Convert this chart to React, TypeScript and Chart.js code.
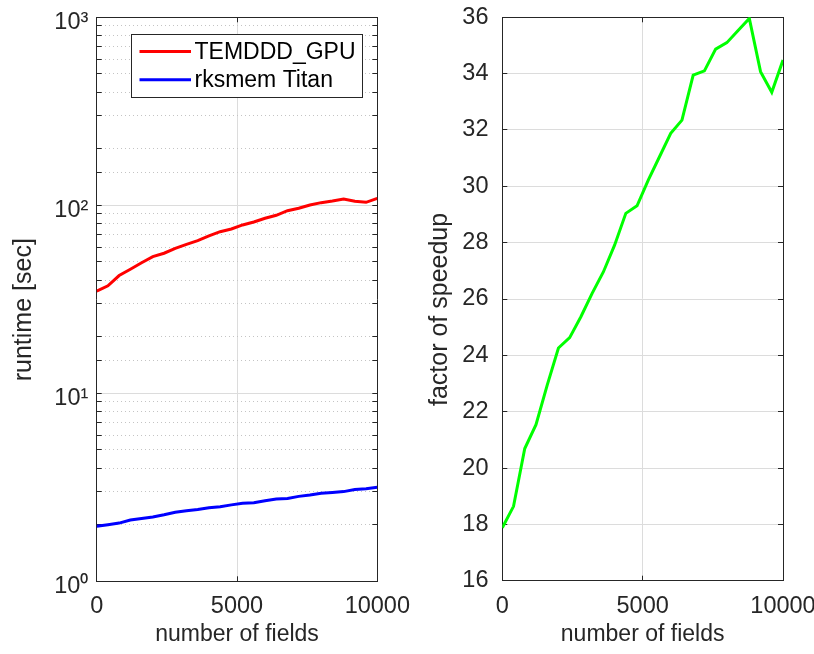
import React, { useEffect, useRef } from 'react';
import { Chart, registerables } from 'chart.js';

Chart.register(...registerables);

// ---------- data ----------
const fieldCounts = [
  0, 400, 800, 1200, 1600, 2000, 2400, 2800, 3200, 3600, 4000, 4400, 4800,
  5200, 5600, 6000, 6400, 6800, 7200, 7600, 8000, 8400, 8800, 9200, 9600, 10000,
];
const runtimeTemdddGpu = [
  35.0, 37.3, 42.3, 45.7, 49.5, 53.3, 55.6, 59.0, 62.0, 64.9, 68.7, 72.4, 74.8,
  78.6, 81.5, 85.3, 88.5, 93.6, 96.4, 100.4, 103.3, 105.4, 108.1, 105.0, 103.7, 108.8,
];
const runtimeRksmemTitan = [
  1.96, 2.0, 2.04, 2.12, 2.16, 2.2, 2.26, 2.33, 2.37, 2.41, 2.46, 2.49, 2.55,
  2.6, 2.62, 2.68, 2.74, 2.76, 2.83, 2.88, 2.94, 2.97, 3.0, 3.08, 3.11, 3.16,
];
const speedupFactor = [
  17.88, 18.64, 20.69, 21.54, 22.94, 24.26, 24.63, 25.37, 26.2, 26.96, 27.91, 29.04, 29.31,
  30.22, 31.05, 31.88, 32.35, 33.95, 34.1, 34.87, 35.1, 35.53, 35.96, 34.07, 33.34, 34.48,
];
const seriesLabels = ['TEMDDD_GPU', 'rksmem Titan'];
const fieldTickValues = [0, 5000, 10000];
const runtimeTickValues = [1, 10, 100, 1000];
const runtimeTickLabels = ['10⁰', '10¹', '10²', '10³'];
const speedupTickValues = [16, 18, 20, 22, 24, 26, 28, 30, 32, 34, 36];
const xTitle = 'number of fields';
const runtimeTitle = 'runtime [sec]';
const speedupTitle = 'factor of speedup';

// ---------- style ----------
const FONT = "'Liberation Sans', Arial, Helvetica, sans-serif";
const TEXT = '#262626';
const AXIS = '#262626';
const GRID_MAJOR = '#dcdcdc';
const GRID_MINOR = '#c4c4c4';
const TICK_FONT = { family: FONT, size: 23.5 };
const X_TITLE_FONT = { family: FONT, size: 23 };
const Y_TITLE_FONT = { family: FONT, size: 25 };
const TITLE_SHIFT = '   ';

const isDecade = (v: number | undefined) => {
  if (v === undefined || v <= 0) return false;
  const l = Math.log10(v);
  return Math.abs(l - Math.round(l)) < 1e-9;
};

const boxLegend = {
  id: 'boxLegend',
  afterDatasetsDraw(chart: any, _args: any, opts: any) {
    if (!opts || !opts.display) return;
    const ctx = chart.ctx as CanvasRenderingContext2D;
    const { left, top } = chart.chartArea;
    const x = Math.round(left + opts.offsetX);
    const y = Math.round(top + opts.offsetY);
    ctx.save();
    ctx.fillStyle = '#ffffff';
    ctx.fillRect(x, y, opts.width, opts.height);
    ctx.strokeStyle = AXIS;
    ctx.lineWidth = 1;
    ctx.strokeRect(x + 0.5, y + 0.5, opts.width, opts.height);
    chart.data.datasets.forEach((ds: any, i: number) => {
      const cy = y + opts.firstRow + i * opts.rowGap;
      ctx.strokeStyle = ds.borderColor;
      ctx.lineWidth = ds.borderWidth;
      ctx.beginPath();
      ctx.moveTo(x + opts.lineStart, cy);
      ctx.lineTo(x + opts.lineEnd, cy);
      ctx.stroke();
      ctx.fillStyle = '#000000';
      ctx.font = `${opts.fontSize}px ${FONT}`;
      ctx.textBaseline = 'middle';
      ctx.textAlign = 'left';
      ctx.fillText(ds.label, x + opts.textStart, cy + 1);
    });
    ctx.restore();
  },
};

const fieldTicks = (s: any) => {
  s.ticks = fieldTickValues.map((value) => ({ value }));
};

const noPadV = (width: number) => (s: any) => {
  s.width = width;
  s.paddingTop = 0;
  s.paddingBottom = 0;
};

function xScales(bottomHeight: number) {
  return {
    x: {
      type: 'linear',
      position: 'bottom',
      min: 0,
      max: 10000,
      afterBuildTicks: fieldTicks,
      afterFit: (s: any) => {
        s.height = bottomHeight;
        s.paddingLeft = 0;
        s.paddingRight = 0;
      },
      ticks: {
        font: TICK_FONT,
        color: TEXT,
        padding: 16.3,
        maxRotation: 0,
        autoSkip: false,
        callback: (v: number) => String(v),
      },
      grid: { color: GRID_MAJOR, lineWidth: 1, drawTicks: true, tickLength: -5, tickColor: AXIS, tickWidth: 1 },
      border: { color: AXIS, width: 1 },
      title: { display: true, text: xTitle, font: X_TITLE_FONT, color: TEXT, padding: { top: 0, bottom: 5.5 } },
    },
    x2: {
      type: 'linear',
      position: 'top',
      min: 0,
      max: 10000,
      afterBuildTicks: fieldTicks,
      afterFit: (s: any) => {
        s.height = 0;
        s.paddingLeft = 0;
        s.paddingRight = 0;
      },
      ticks: { display: false },
      grid: { drawOnChartArea: false, drawTicks: true, tickLength: -5, tickColor: AXIS, tickWidth: 1 },
      border: { color: AXIS, width: 1 },
    },
  };
}

function leftConfig(): any {
  return {
    type: 'line',
    data: {
      datasets: [
        {
          label: seriesLabels[0],
          data: fieldCounts.map((f, i) => ({ x: f, y: runtimeTemdddGpu[i] })),
          borderColor: '#ff0000',
          backgroundColor: '#ff0000',
          borderWidth: 3,
          pointRadius: 0,
          tension: 0,
          xAxisID: 'x',
          yAxisID: 'y',
        },
        {
          label: seriesLabels[1],
          data: fieldCounts.map((f, i) => ({ x: f, y: runtimeRksmemTitan[i] })),
          borderColor: '#0000ff',
          backgroundColor: '#0000ff',
          borderWidth: 3,
          pointRadius: 0,
          tension: 0,
          xAxisID: 'x',
          yAxisID: 'y',
        },
      ],
    },
    options: {
      responsive: false,
      animation: false,
      devicePixelRatio: 1,
      layout: { padding: { left: 0, top: 17.3, right: 62.7, bottom: 0 } },
      plugins: {
        legend: { display: false },
        tooltip: { enabled: false },
        boxLegend: {
          display: true,
          offsetX: 34.3,
          offsetY: 17,
          width: 231,
          height: 63,
          firstRow: 17.5,
          rowGap: 28.3,
          lineStart: 8.5,
          lineEnd: 60,
          textStart: 63.5,
          fontSize: 23,
        },
      },
      scales: {
        ...xScales(72.7),
        y: {
          type: 'logarithmic',
          position: 'left',
          min: 1,
          max: 1000,
          afterFit: noPadV(96.7),
          ticks: {
            font: TICK_FONT,
            color: TEXT,
            padding: 13.4,
            autoSkip: false,
            labelOffset: 5,
            callback: (value: number) => {
              const i = runtimeTickValues.findIndex((v) => Math.abs(v - value) < 1e-9 * v);
              return i >= 0 ? runtimeTickLabels[i] : '';
            },
          },
          grid: {
            color: (c: any) => (isDecade(c.tick?.value) ? GRID_MAJOR : GRID_MINOR),
            lineWidth: 1,
            drawTicks: true,
            tickLength: -5,
            tickColor: AXIS,
            tickWidth: 1,
          },
          border: {
            color: AXIS,
            width: 1,
            dash: (c: any) => (c.tick && !isDecade(c.tick.value) ? [1, 3] : []),
          },
          title: {
            display: true,
            text: runtimeTitle + TITLE_SHIFT,
            font: Y_TITLE_FONT,
            color: TEXT,
            padding: { top: 9, bottom: 0 },
          },
        },
        y2: {
          type: 'logarithmic',
          position: 'right',
          min: 1,
          max: 1000,
          afterFit: noPadV(0),
          ticks: { display: false, autoSkip: false },
          grid: { drawOnChartArea: false, drawTicks: true, tickLength: -5, tickColor: AXIS, tickWidth: 1 },
          border: { color: AXIS, width: 1 },
        },
      },
    },
    plugins: [boxLegend],
  };
}

function rightConfig(): any {
  return {
    type: 'line',
    data: {
      datasets: [
        {
          label: 'speedup',
          data: fieldCounts.map((f, i) => ({ x: f, y: speedupFactor[i] })),
          borderColor: '#00ff00',
          backgroundColor: '#00ff00',
          borderWidth: 3,
          pointRadius: 0,
          tension: 0,
          xAxisID: 'x',
          yAxisID: 'y',
        },
      ],
    },
    options: {
      responsive: false,
      animation: false,
      devicePixelRatio: 1,
      layout: { padding: { left: 0, top: 17.3, right: 77, bottom: 0 } },
      plugins: {
        legend: { display: false },
        tooltip: { enabled: false },
      },
      scales: {
        ...xScales(73.3),
        y: {
          type: 'linear',
          position: 'left',
          min: 16,
          max: 36,
          afterBuildTicks: (s: any) => {
            s.ticks = speedupTickValues.map((value) => ({ value }));
          },
          afterFit: noPadV(82.3),
          ticks: { font: TICK_FONT, color: TEXT, padding: 18.8, autoSkip: false },
          grid: { color: GRID_MAJOR, lineWidth: 1, drawTicks: true, tickLength: -5, tickColor: AXIS, tickWidth: 1 },
          border: { color: AXIS, width: 1 },
          title: {
            display: true,
            text: speedupTitle + TITLE_SHIFT,
            font: Y_TITLE_FONT,
            color: TEXT,
            padding: { top: 5.5, bottom: 0 },
          },
        },
        y2: {
          type: 'linear',
          position: 'right',
          min: 16,
          max: 36,
          afterBuildTicks: (s: any) => {
            s.ticks = speedupTickValues.map((value) => ({ value }));
          },
          afterFit: noPadV(0),
          ticks: { display: false },
          grid: { drawOnChartArea: false, drawTicks: true, tickLength: -5, tickColor: AXIS, tickWidth: 1 },
          border: { color: AXIS, width: 1 },
        },
      },
    },
  };
}

export default function App() {
  const leftRef = useRef<HTMLCanvasElement>(null);
  const rightRef = useRef<HTMLCanvasElement>(null);

  useEffect(() => {
    const a = new Chart(leftRef.current as HTMLCanvasElement, leftConfig());
    const b = new Chart(rightRef.current as HTMLCanvasElement, rightConfig());
    return () => {
      a.destroy();
      b.destroy();
    };
  }, []);

  return (
    <div
      style={{
        position: 'fixed',
        left: 0,
        top: 0,
        width: 814,
        height: 654,
        background: '#ffffff',
        overflow: 'hidden',
      }}
    >
      <canvas
        ref={leftRef}
        width={440}
        height={654}
        style={{ position: 'absolute', left: 0, top: 0, width: 440, height: 654 }}
      />
      <canvas
        ref={rightRef}
        width={440}
        height={654}
        style={{ position: 'absolute', left: 420, top: 0, width: 440, height: 654 }}
      />
    </div>
  );
}
